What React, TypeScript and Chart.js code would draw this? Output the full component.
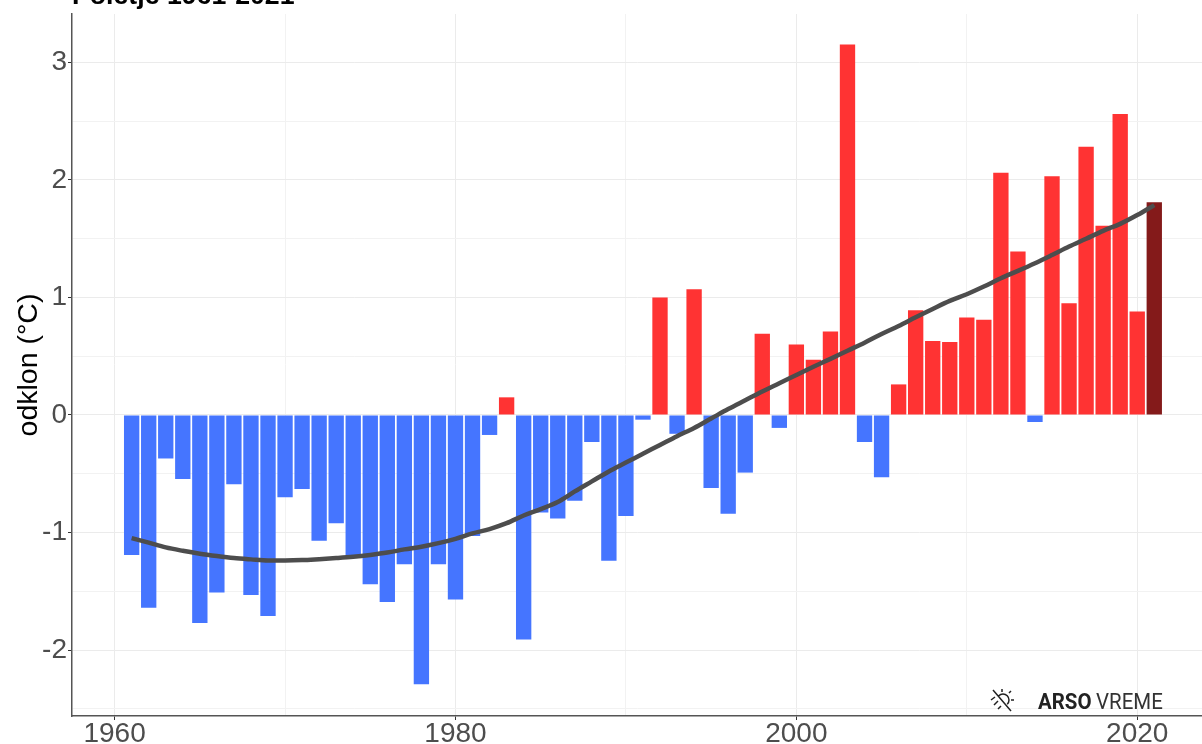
import React, { useEffect, useRef } from "react";
import { Chart, registerables } from "chart.js";

Chart.register(...registerables);

const years = [1961,1962,1963,1964,1965,1966,1967,1968,1969,1970,1971,1972,1973,1974,1975,1976,1977,1978,1979,1980,1981,1982,1983,1984,1985,1986,1987,1988,1989,1990,1991,1992,1993,1994,1995,1996,1997,1998,1999,2000,2001,2002,2003,2004,2005,2006,2007,2008,2009,2010,2011,2012,2013,2014,2015,2016,2017,2018,2019,2020,2021];

const anomalies = [-1.19,-1.64,-0.37,-0.545,-1.77,-1.51,-0.59,-1.53,-1.71,-0.70,-0.63,-1.07,-0.92,-1.21,-1.44,-1.59,-1.27,-2.29,-1.27,-1.57,-1.03,-0.17,0.15,-1.91,-0.83,-0.88,-0.73,-0.23,-1.24,-0.86,-0.04,1.00,-0.16,1.07,-0.62,-0.84,-0.49,0.69,-0.11,0.60,0.47,0.71,3.15,-0.23,-0.53,0.26,0.89,0.63,0.62,0.83,0.81,2.06,1.39,-0.06,2.03,0.95,2.28,1.61,2.56,0.88,1.81];

const trend = [-1.047,-1.086,-1.126,-1.155,-1.18,-1.2,-1.217,-1.228,-1.237,-1.237,-1.234,-1.226,-1.217,-1.206,-1.19,-1.17,-1.143,-1.12,-1.09,-1.053,-1.007,-0.97,-0.92,-0.855,-0.80,-0.74,-0.65,-0.565,-0.48,-0.405,-0.33,-0.255,-0.18,-0.11,-0.03,0.05,0.125,0.2,0.27,0.34,0.41,0.477,0.547,0.615,0.689,0.757,0.831,0.902,0.97,1.027,1.092,1.163,1.225,1.29,1.36,1.432,1.498,1.566,1.625,1.70,1.785];

const titleText = "Poletje 1961-2021";
const yAxisLabel = "odklon (°C)";
const logoBold = "ARSO";
const logoLight = "VREME";

const BLUE = "#4575FF";
const RED = "#FF3333";
const DARK_RED = "#841A1A";
const TEXT = "#4D4D4D";

const overlay = {
  id: "overlay",
  afterDraw(chart: any) {
    const c = chart.ctx as CanvasRenderingContext2D;
    c.save();
    c.fillStyle = "#000";
    c.textBaseline = "alphabetic";
    c.textAlign = "left";
    c.font = 'bold 26.7px "Liberation Sans"';
    c.fillText(titleText, 72, 4);

    c.save();
    c.translate(1038, 709);
    c.scale(0.93, 1);
    c.fillStyle = "#222";
    c.font = 'bold 22px "Roboto"';
    c.fillText(logoBold, 0, 0);
    c.restore();

    c.save();
    c.translate(1096, 709);
    c.scale(0.93, 1);
    c.fillStyle = "#333";
    c.font = '22px "Roboto"';
    c.fillText(logoLight, 0, 0);
    c.restore();

    // sun icon
    c.strokeStyle = "#222";
    c.lineWidth = 1.5;
    c.beginPath();
    c.arc(1003, 700, 6, -Math.PI * 0.75, Math.PI * 0.25);
    c.moveTo(993, 690);
    c.lineTo(1011, 711);
    c.moveTo(1002, 689); c.lineTo(1002, 692);
    c.moveTo(1014, 700); c.lineTo(1011, 700);
    c.moveTo(1011, 691); c.lineTo(1009, 693);
    c.moveTo(991, 700); c.lineTo(995, 697);
    c.moveTo(994, 705); c.lineTo(998, 701);
    c.moveTo(998, 709); c.lineTo(1001, 706);
    c.stroke();
    c.restore();
  },
};

export default function App() {
  const ref = useRef<HTMLCanvasElement>(null);

  useEffect(() => {
    document.body.style.margin = "0";
    const chart = new Chart(ref.current!, {
      type: "bar",
      data: {
        datasets: [
          {
            type: "line",
            data: years.map((x, i) => ({ x, y: trend[i] })),
            borderColor: TEXT,
            borderWidth: 4.5,
            pointRadius: 0,
            cubicInterpolationMode: "monotone",
            order: 1,
          } as any,
          {
            type: "bar",
            data: years.map((x, i) => ({ x, y: anomalies[i] })),
            backgroundColor: anomalies.map((v, i) =>
              i === anomalies.length - 1 ? DARK_RED : v < 0 ? BLUE : RED
            ),
            barPercentage: 0.9,
            categoryPercentage: 1,
            order: 2,
          } as any,
        ],
      },
      options: {
        responsive: false,
        animation: false,
        layout: { padding: { top: 14, left: 0, right: 0, bottom: 0 } },
        plugins: { legend: { display: false }, tooltip: { enabled: false }, title: { display: false } },
        scales: {
          x: {
            type: "linear",
            offset: false,
            min: 1957.5,
            max: 2023.8,
            grid: {
              offset: false,
              color: (ctx: any) => (ctx.tick && ctx.tick.value % 20 === 0 ? "#EBEBEB" : "#F2F2F2"),
              tickColor: (ctx: any) => (ctx.tick && ctx.tick.value % 20 === 0 ? "#333333" : "rgba(0,0,0,0)"),
              tickLength: 4,
              lineWidth: 1,
            },
            border: { display: true, color: "#555555", width: 1.5 },
            ticks: {
              stepSize: 10,
              includeBounds: false,
              autoSkip: false,
              maxRotation: 0,
              minRotation: 0,
              padding: -3,
              color: TEXT,
              font: { family: '"Liberation Sans"', size: 28 },
              callback: (v: any) => (Number(v) % 20 === 0 ? String(v) : ""),
            },
            afterFit: (s: any) => { s.height = 28; s.paddingLeft = 0; s.paddingRight = 0; },
          },
          y: {
            type: "linear",
            min: -2.56,
            max: 3.41,
            grid: {
              color: (ctx: any) => (ctx.tick && Number.isInteger(ctx.tick.value) ? "#EBEBEB" : "#F2F2F2"),
              tickColor: (ctx: any) => (ctx.tick && Number.isInteger(ctx.tick.value) ? "#333333" : "rgba(0,0,0,0)"),
              tickLength: 4,
              lineWidth: 1,
            },
            border: { display: true, color: "#555555", width: 1.5 },
            title: {
              display: true,
              text: yAxisLabel,
              color: "#000",
              font: { family: '"Liberation Sans"', size: 28.5 },
              padding: { top: 12, bottom: 0 },
            },
            ticks: {
              stepSize: 0.5,
              includeBounds: false,
              autoSkip: false,
              padding: 1,
              color: TEXT,
              font: { family: '"Liberation Sans"', size: 28 },
              callback: (v: any) => (Number.isInteger(Number(v)) ? String(v) : ""),
            },
            afterFit: (s: any) => { s.width = 72; s.paddingTop = 0; s.paddingBottom = 0; },
          },
        },
      },
      plugins: [overlay],
    } as any);
    return () => chart.destroy();
  }, []);

  return (
    <canvas
      ref={ref}
      width={1202}
      height={744}
      style={{ display: "block", position: "absolute", left: 0, top: 0, width: 1202, height: 744 }}
    />
  );
}
